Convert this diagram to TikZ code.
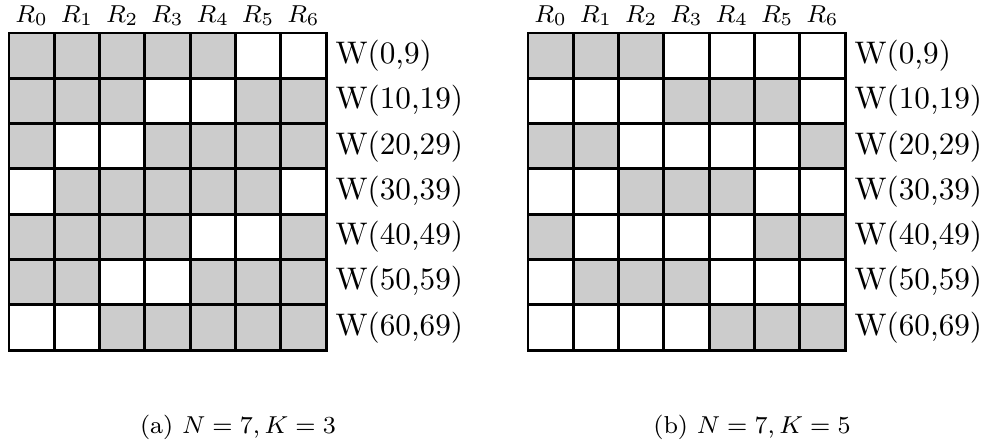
\documentclass[tikz,border=0pt]{standalone}
\newcommand\mkrow[4]{%
  \foreach \v [count=\c from 0] in {#4}
    \node[cell\v] (#1-#3-\c) at ({#2+45.3*(\c+0.5)},{33+45.3*(#3+0.5)}) {};}
\begin{document}
\begin{tikzpicture}[x=0.3268pt,y=-0.3268pt,
  cellbase/.style={draw=black, line width=0.95pt, minimum size=14.8pt, inner sep=0pt, outer sep=0pt},
  cell0/.style={cellbase},
  cell1/.style={cellbase, fill=black!20},
  collab/.style={anchor=base, inner sep=0pt, font=\fontsize{8}{9.6}\selectfont},
  wlab/.style={anchor=west, inner sep=0pt, font=\fontsize{10.2}{12}\selectfont},
  captext/.style={anchor=base, inner sep=0pt, font=\fontsize{8}{9.6}\selectfont}]
\useasboundingbox (0,0) rectangle (987,447);
% grid (a)
\mkrow{a}{9}{0}{1,1,1,1,1,0,0}
\mkrow{a}{9}{1}{1,1,1,0,0,1,1}
\mkrow{a}{9}{2}{1,0,0,1,1,1,1}
\mkrow{a}{9}{3}{0,1,1,1,1,1,0}
\mkrow{a}{9}{4}{1,1,1,1,0,0,1}
\mkrow{a}{9}{5}{1,1,0,0,1,1,1}
\mkrow{a}{9}{6}{0,0,1,1,1,1,1}
% grid (b)
\mkrow{b}{528}{0}{1,1,1,0,0,0,0}
\mkrow{b}{528}{1}{0,0,0,1,1,1,0}
\mkrow{b}{528}{2}{1,1,0,0,0,0,1}
\mkrow{b}{528}{3}{0,0,1,1,1,0,0}
\mkrow{b}{528}{4}{1,0,0,0,0,1,1}
\mkrow{b}{528}{5}{0,1,1,1,0,0,0}
\mkrow{b}{528}{6}{0,0,0,0,1,1,1}
% column labels
\foreach \c in {0,...,6} {
  \node[collab] (ra\c) at ({9+45.3*(\c+0.5)},22.5) {$R_{\c}$};
  \node[collab] (rb\c) at ({528+45.3*(\c+0.5)},22.5) {$R_{\c}$};
}
% row labels
\foreach \r/\t in {0/{W(0,9)},1/{W(10,19)},2/{W(20,29)},3/{W(30,39)},4/{W(40,49)},5/{W(50,59)},6/{W(60,69)}} {
  \node[wlab] (wa\r) at (335,{33+45.3*(\r+0.5)}) {\t};
  \node[wlab] (wb\r) at (854,{33+45.3*(\r+0.5)}) {\t};
}
% captions
\node[captext] (capa) at (238,433) {(a) $N=7,K=3$};
\node[captext] (capb) at (752,433) {(b) $N=7,K=5$};
\end{tikzpicture}
\end{document}
